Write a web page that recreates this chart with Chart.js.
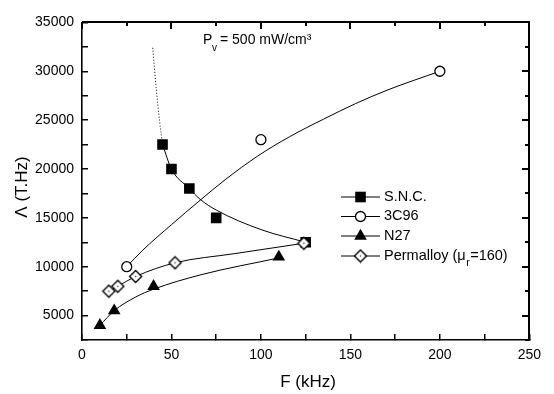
<!DOCTYPE html>
<html><head><meta charset="utf-8">
<script src="https://cdn.jsdelivr.net/npm/chart.js@4.4.0/dist/chart.umd.min.js"></script>
<style>html,body{margin:0;padding:0;background:#fff;}#wrap{width:554px;height:394px;}</style>
</head><body><div id="wrap"><canvas id="c" width="554" height="394"></canvas></div>
<script>
// ---- measured data (markers) ----
const sncF = [45, 50, 60, 75, 125];
const sncL = [22500, 20000, 18000, 15000, 12500];
const c96F = [25, 100, 200];
const c96L = [10000, 23000, 30000];
const n27F = [10, 18, 40, 110];
const n27L = [4000, 5500, 8000, 11000];
const perF = [15, 20, 30, 52, 124];
const perL = [7500, 8000, 9000, 10400, 12400];
// ---- fitted curves ----
const sncFitF = [45, 50, 60, 66, 75, 100, 125];
const sncFitL = [22500, 20000, 18000, 16900, 15800, 13800, 12500];
const sncDotF = [39.5, 41.5, 43.3, 45];
const sncDotL = [32400, 28200, 25000, 22500];
const c96FitF = [25, 34, 50, 66, 80, 98, 116, 135, 153, 171, 200];
const c96FitL = [10000, 11700, 14300, 16800, 18900, 21300, 23300, 25100, 26700, 28100, 30000];
const n27FitF = [10, 18, 30, 40, 67, 110];
const n27FitL = [4000, 5500, 6900, 7700, 9200, 10900];
const perFitF = [15, 20, 30, 52, 85, 124];
const perFitL = [7500, 8000, 9000, 10400, 11330, 12400];
// ---- axes / text ----
const xTickVals = [0, 25, 50, 75, 100, 125, 150, 175, 200, 225, 250];
const xTickLabels = [0, 50, 100, 150, 200, 250];
const yTickVals = [2500, 5000, 7500, 10000, 12500, 15000, 17500, 20000, 22500, 25000, 27500, 30000, 32500, 35000];
const yTickLabels = [5000, 10000, 15000, 20000, 25000, 30000, 35000];
const seriesNames = ['S.N.C.', '3C96', 'N27', 'Permalloy'];

const FONT = "'Liberation Sans', Arial, Helvetica, sans-serif";
const pts = (xv, yv) => xv.map((x, i) => ({x: x, y: yv[i]}));

// diamond with centre dot
const dia = document.createElement('canvas');
dia.width = 15; dia.height = 15;
(function(){
  const g = dia.getContext('2d');
  g.beginPath(); g.moveTo(7.5, 1.5); g.lineTo(13.5, 7.5); g.lineTo(7.5, 13.5); g.lineTo(1.5, 7.5); g.closePath();
  g.fillStyle = '#fff'; g.fill(); g.lineWidth = 1.4; g.strokeStyle = '#000'; g.stroke();
  g.fillStyle = '#444'; g.fillRect(6.8, 6.8, 1.4, 1.4);
})();

const lineDs = (xv, yv, dash) => ({
  data: pts(xv, yv), showLine: true, pointRadius: 0, borderColor: '#000', borderWidth: 1,
  borderDash: dash || [], cubicInterpolationMode: 'monotone', fill: false, order: 10
});

const datasets = [
  lineDs(sncFitF, sncFitL), lineDs(sncDotF, sncDotL, [1, 2]), lineDs(c96FitF, c96FitL),
  lineDs(n27FitF, n27FitL), lineDs(perFitF, perFitL),
  {label: seriesNames[0], data: pts(sncF, sncL), showLine: false, pointStyle: 'rect', pointRadius: 7.5,
   backgroundColor: '#000', borderColor: '#000', borderWidth: 0, order: 4},
  {label: seriesNames[1], data: pts(c96F, c96L), showLine: false, pointStyle: 'circle', pointRadius: 5,
   backgroundColor: '#fff', borderColor: '#000', borderWidth: 1.3, order: 3},
  {label: seriesNames[2], data: pts(n27F, n27L), showLine: false, pointStyle: 'triangle', pointRadius: 7.3,
   backgroundColor: '#000', borderColor: '#000', borderWidth: 0, order: 2},
  {label: seriesNames[3], data: pts(perF, perL), showLine: false, pointStyle: dia, pointRadius: 6,
   backgroundColor: '#fff', borderColor: '#000', borderWidth: 1.4, order: 1}
];

function drawMarker(ctx, kind, x, y) {
  ctx.save();
  ctx.fillStyle = '#000'; ctx.strokeStyle = '#000';
  if (kind === 0) { ctx.fillRect(x - 5.3, y - 5.3, 10.6, 10.6); }
  else if (kind === 1) { ctx.beginPath(); ctx.arc(x, y, 5, 0, Math.PI * 2); ctx.fillStyle = '#fff'; ctx.fill(); ctx.lineWidth = 1.3; ctx.stroke(); }
  else if (kind === 2) { const r = 7.3; ctx.beginPath(); ctx.moveTo(x, y - r); ctx.lineTo(x + r * 0.866, y + r / 2); ctx.lineTo(x - r * 0.866, y + r / 2); ctx.closePath(); ctx.fill(); }
  else { ctx.drawImage(dia, x - 7.5, y - 7.5); }
  ctx.restore();
}

const decor = {
  id: 'decor',
  afterDraw(chart) {
    const ctx = chart.ctx, a = chart.chartArea, sx = chart.scales.x, sy = chart.scales.y;
    ctx.save();
    ctx.fillStyle = '#000';
    const L = Math.round(a.left), R = Math.round(a.right), T = Math.round(a.top), B = Math.round(a.bottom);
    // top & right frame
    ctx.fillRect(L, T - 1, R - L + 1, 2);
    ctx.fillRect(R - 1, T - 1, 2, B - T + 2);
    // inward ticks on top and right edges, from the scales
    xTickVals.forEach(v => {
      const p = Math.round(sx.getPixelForValue(v));
      const len = xTickLabels.indexOf(v) >= 0 ? 7 : 4;
      ctx.fillRect(p - 1, T, 2, len);
    });
    yTickVals.forEach(v => {
      const p = Math.round(sy.getPixelForValue(v));
      const len = yTickLabels.indexOf(v) >= 0 ? 7 : 4;
      ctx.fillRect(R - len, p - 1, len, 2);
    });
    // axis titles
    ctx.strokeStyle = '#000';
    ctx.font = '17px ' + FONT;
    ctx.textAlign = 'center'; ctx.textBaseline = 'middle';
    ctx.fillText('F (kHz)', 308, 382);
    ctx.save(); ctx.translate(22, 187); ctx.rotate(-Math.PI / 2); ctx.fillText('\u039B (T.Hz)', 0, 0); ctx.restore();
    // annotation
    ctx.textAlign = 'left'; ctx.textBaseline = 'alphabetic';
    ctx.font = '14px ' + FONT;
    ctx.fillText('P', 203, 44);
    ctx.font = '10px ' + FONT;
    ctx.fillText('v', 212, 51);
    ctx.font = '14px ' + FONT;
    ctx.fillText('= 500 mW/cm\u00B3', 220, 44);
    // legend
    const rows = [196.5, 216, 235.5, 255.5];
    ctx.textBaseline = 'middle';
    rows.forEach((ry, i) => {
      ctx.lineWidth = 1;
      ctx.beginPath(); ctx.moveTo(341, ry + 0.5); ctx.lineTo(380, ry + 0.5); ctx.stroke();
      drawMarker(ctx, i, 360.5, ry + 0.5);
      ctx.font = '14.5px ' + FONT;
      if (i < 3) { ctx.fillText(seriesNames[i], 384, ry); }
      else {
        const s1 = seriesNames[i] + ' (\u03BC';
        ctx.fillText(s1, 384, ry);
        const w = ctx.measureText(s1).width;
        ctx.font = '10.5px ' + FONT;
        ctx.fillText('r', 384 + w + 0.5, ry + 8);
        const w2 = ctx.measureText('r').width;
        ctx.font = '14.5px ' + FONT;
        ctx.fillText('=160)', 384 + w + w2 + 1, ry);
      }
    });
    ctx.restore();
  }
};

new Chart(document.getElementById('c'), {
  type: 'scatter',
  data: {datasets: datasets},
  options: {
    responsive: false, animation: false, devicePixelRatio: 1,
    layout: {padding: {left: 0, right: 18.5, top: 14.5, bottom: 0}},
    plugins: {legend: {display: false}, tooltip: {enabled: false}},
    scales: {
      x: {
        type: 'linear', min: 0, max: 250,
        grid: {display: true, drawOnChartArea: false, drawTicks: true, tickLength: -6,
          color: '#000', tickColor: '#000', tickWidth: 1.5, lineWidth: 1.5},
        border: {display: true, color: '#000', width: 1.6},
        ticks: {stepSize: 25, autoSkip: false, maxRotation: 0, padding: 13, color: '#000',
          font: {family: FONT, size: 14},
          callback: v => xTickLabels.includes(v) ? String(v) : ''},
        afterFit: s => { s.height = 54; }
      },
      y: {
        type: 'linear', min: 2500, max: 35000,
        grid: {display: true, drawOnChartArea: false, drawTicks: true, tickLength: -6,
          color: '#000', tickColor: '#000', tickWidth: 1.5, lineWidth: 1.5},
        border: {display: true, color: '#000', width: 1.6},
        ticks: {stepSize: 2500, autoSkip: false, padding: 14, color: '#000',
          font: {family: FONT, size: 14},
          callback: v => yTickLabels.includes(v) ? String(v) : ''},
        afterFit: s => { s.width = 82; }
      }
    }
  },
  plugins: [decor]
});
</script></body></html>
